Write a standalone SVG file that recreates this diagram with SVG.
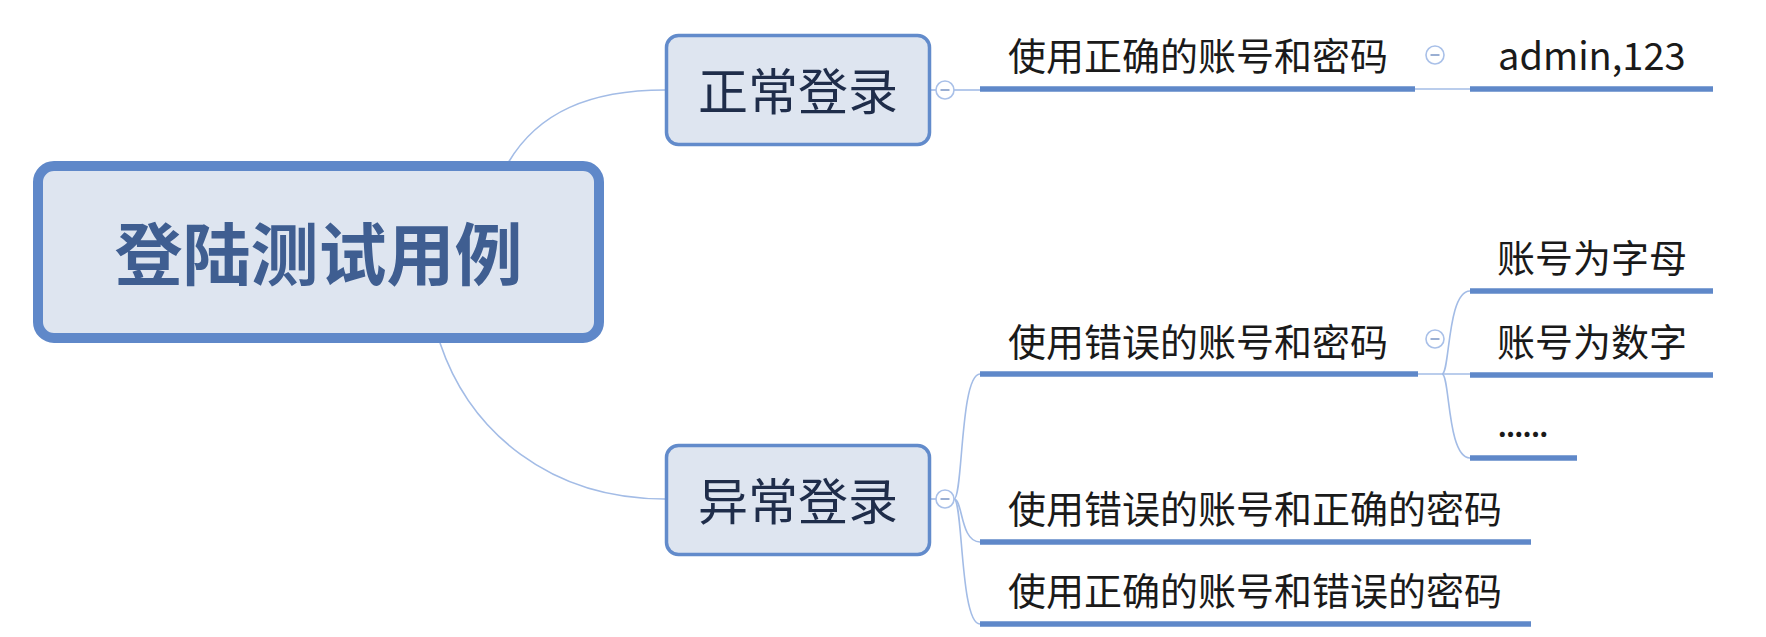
<svg xmlns="http://www.w3.org/2000/svg" width="1766" height="637" viewBox="0 0 1766 637">
<style>
  .bg{fill:#ffffff}
  .root{fill:#DEE5F0;stroke:#5F88C9;stroke-width:10}
  .box{fill:#DEE5F0;stroke:#628BCB;stroke-width:3.5}
  .rt{font-family:"Noto Sans CJK SC","Microsoft YaHei",sans-serif;font-size:68px;font-weight:bold;fill:#3F5E91;text-anchor:middle}
  .nt{font-family:"Noto Sans CJK SC","Microsoft YaHei",sans-serif;font-size:50px;fill:#1F2D4A;text-anchor:middle}
  .t{font-family:"Noto Sans CJK SC","Microsoft YaHei",sans-serif;font-size:38px;fill:#1A1A1A}
  .ul{stroke:#5F88C9;stroke-width:5.5;fill:none}
  .c{stroke:#A3BCE6;stroke-width:1.6;fill:none}
  .btn{fill:#ffffff;stroke:#A9C0E8;stroke-width:1.6}
  .minus{stroke:#9AAFD3;stroke-width:2}
</style>
<rect class="bg" x="0" y="0" width="1766" height="637"/>

<g id="connectors">
  <path class="c" d="M508,163 C538,112 590,90 665,90"/>
  <path class="c" d="M440,343 C470,432 550,499 665,499"/>
  <path class="c" d="M931,90 H936"/>
  <path class="c" d="M954,90 H980"/>
  <path class="c" d="M1415,89 H1470"/>
  <path class="c" d="M931,499 H936"/>
  <path class="c" d="M954,499 C963,499 960,374 980,374"/>
  <path class="c" d="M954,499 C963,499 960,542 980,542"/>
  <path class="c" d="M954,499 C963,499 960,624 980,624"/>
  <path class="c" d="M1418,374 H1470"/>
  <path class="c" d="M1442,374 C1450,374 1447,291 1470,291"/>
  <path class="c" d="M1442,374 C1450,374 1447,458 1470,458"/>
</g>

<g id="root">
  <rect class="root" x="38" y="166" width="561" height="172" rx="16"/>
  <text class="rt" x="318.5" y="280">登陆测试用例</text>
</g>

<g id="normal">
  <rect class="box" x="666.5" y="35.5" width="263" height="109" rx="12"/>
  <text class="nt" x="798" y="110">正常登录</text>
  <circle class="btn" cx="945" cy="90" r="9"/>
  <line class="minus" x1="940.5" y1="90" x2="949.5" y2="90"/>
</g>

<g id="abnormal">
  <rect class="box" x="666.5" y="445.5" width="263" height="109" rx="12"/>
  <text class="nt" x="798" y="520">异常登录</text>
  <circle class="btn" cx="945" cy="499" r="9"/>
  <line class="minus" x1="940.5" y1="499" x2="949.5" y2="499"/>
</g>

<g id="n-correct">
  <text class="t" x="1008" y="70">使用正确的账号和密码</text>
  <line class="ul" x1="980" y1="89" x2="1415" y2="89"/>
  <circle class="btn" cx="1435" cy="55" r="9"/>
  <line class="minus" x1="1430.5" y1="55" x2="1439.5" y2="55"/>
</g>

<g id="n-admin">
  <text class="t" x="1498" y="70">admin,123</text>
  <line class="ul" x1="1470" y1="89" x2="1713" y2="89"/>
</g>

<g id="n-wrong">
  <text class="t" x="1008" y="356">使用错误的账号和密码</text>
  <line class="ul" x1="980" y1="374" x2="1418" y2="374"/>
  <circle class="btn" cx="1435" cy="339" r="9"/>
  <line class="minus" x1="1430.5" y1="339" x2="1439.5" y2="339"/>
</g>

<g id="n-letter">
  <text class="t" x="1497" y="272">账号为字母</text>
  <line class="ul" x1="1470" y1="291" x2="1713" y2="291"/>
</g>

<g id="n-digit">
  <text class="t" x="1497" y="356">账号为数字</text>
  <line class="ul" x1="1470" y1="375" x2="1713" y2="375"/>
</g>

<g id="n-etc">
  <text class="t" x="1497" y="437" textLength="52" lengthAdjust="spacing">......</text>
  <line class="ul" x1="1470" y1="458" x2="1577" y2="458"/>
</g>

<g id="n-wrong-right">
  <text class="t" x="1008" y="523">使用错误的账号和正确的密码</text>
  <line class="ul" x1="980" y1="542" x2="1531" y2="542"/>
</g>

<g id="n-right-wrong">
  <text class="t" x="1008" y="605">使用正确的账号和错误的密码</text>
  <line class="ul" x1="980" y1="624" x2="1531" y2="624"/>
</g>
</svg>
